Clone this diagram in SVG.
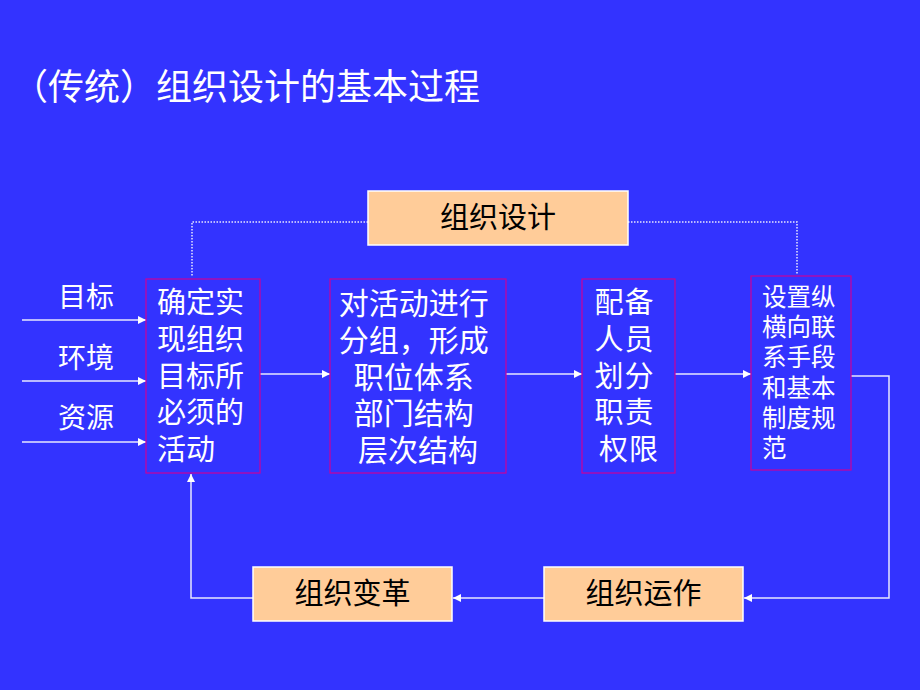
<svg xmlns="http://www.w3.org/2000/svg" width="920" height="690" viewBox="0 0 920 690">
<defs>
<marker id="ah" viewBox="0 0 10 10" refX="10" refY="5" markerWidth="9" markerHeight="8" markerUnits="userSpaceOnUse" orient="auto">
<path d="M0,0 L10,5 L0,10 z" fill="#FFFFFF"/>
</marker>
</defs>
<style>
text{font-family:"Liberation Sans","Noto Sans CJK SC","Noto Sans CJK JP",sans-serif;dominant-baseline:central}
.w{fill:#FFFFFF}
.k{fill:#000000}
.mag{fill:none;stroke:#CC0099;stroke-width:1.2}
.org{fill:#FFCC99;stroke:#FFFFFF;stroke-width:1.5}
.ln{fill:none;stroke:#E8E8FF;stroke-width:1.5}
.dot{fill:none;stroke:#E8E8FF;stroke-width:1.5;stroke-dasharray:1.5 1.5}
</style>
<rect x="0" y="0" width="920" height="690" fill="#3333FF"/>
<text class="w" x="12" y="87" font-size="36">（传统）组织设计的基本过程</text>

<g id="connectors">
<path class="dot" d="M368,222 H192 V277"/>
<path class="dot" d="M628,222 H797 V275"/>
<line class="ln" x1="22" y1="320" x2="146" y2="320" marker-end="url(#ah)"/>
<line class="ln" x1="22" y1="381" x2="146" y2="381" marker-end="url(#ah)"/>
<line class="ln" x1="22" y1="442" x2="146" y2="442" marker-end="url(#ah)"/>
<line class="ln" x1="260" y1="374" x2="330" y2="374" marker-end="url(#ah)"/>
<line class="ln" x1="506" y1="374" x2="582" y2="374" marker-end="url(#ah)"/>
<line class="ln" x1="675" y1="374" x2="751" y2="374" marker-end="url(#ah)"/>
<path class="ln" d="M851,376 H889 V598 H744" marker-end="url(#ah)"/>
<line class="ln" x1="544" y1="598" x2="453" y2="598" marker-end="url(#ah)"/>
<path class="ln" d="M253,598 H191 V474" marker-end="url(#ah)"/>
</g>

<g id="labels">
<text class="w" x="86" y="297" font-size="28" text-anchor="middle">目标</text>
<text class="w" x="86" y="358" font-size="28" text-anchor="middle">环境</text>
<text class="w" x="86" y="418" font-size="28" text-anchor="middle">资源</text>
</g>

<g id="design">
<rect class="org" x="368" y="191" width="260" height="54"/>
<text class="k" x="498" y="218" font-size="29" text-anchor="middle">组织设计</text>
</g>

<g id="activities">
<rect class="mag" x="146" y="279" width="114" height="194"/>
<text class="w" font-size="29" x="157">
<tspan x="157" y="303">确定实</tspan>
<tspan x="157" y="340">现组织</tspan>
<tspan x="157" y="377">目标所</tspan>
<tspan x="157" y="413">必须的</tspan>
<tspan x="157" y="450">活动</tspan>
</text>
</g>

<g id="grouping">
<rect class="mag" x="330" y="279" width="176" height="194"/>
<text class="w" font-size="30" text-anchor="middle">
<tspan x="418" y="303">对活动进行</tspan>
<tspan x="418" y="340">分组，形成</tspan>
<tspan x="418" y="377">职位体系</tspan>
<tspan x="418" y="413">部门结构</tspan>
<tspan x="418" y="450">层次结构</tspan>
</text>
</g>

<g id="staffing">
<rect class="mag" x="582" y="279" width="93" height="194"/>
<text class="w" font-size="29" text-anchor="middle" letter-spacing="1">
<tspan x="629" y="303">配备</tspan>
<tspan x="629" y="340">人员</tspan>
<tspan x="629" y="377">划分</tspan>
<tspan x="629" y="413">职责</tspan>
<tspan x="629" y="450">权限</tspan>
</text>
</g>

<g id="linkage">
<rect class="mag" x="751" y="276" width="100" height="194"/>
<text class="w" font-size="24.5">
<tspan x="762" y="297">设置纵</tspan>
<tspan x="762" y="327">横向联</tspan>
<tspan x="762" y="357">系手段</tspan>
<tspan x="762" y="388">和基本</tspan>
<tspan x="762" y="418">制度规</tspan>
<tspan x="762" y="448">范</tspan>
</text>
</g>

<g id="operation">
<rect class="org" x="544" y="567" width="199" height="54"/>
<text class="k" x="643.5" y="594" font-size="29" text-anchor="middle">组织运作</text>
</g>

<g id="change">
<rect class="org" x="253" y="567" width="199" height="54"/>
<text class="k" x="352.5" y="594" font-size="29" text-anchor="middle">组织变革</text>
</g>
</svg>
